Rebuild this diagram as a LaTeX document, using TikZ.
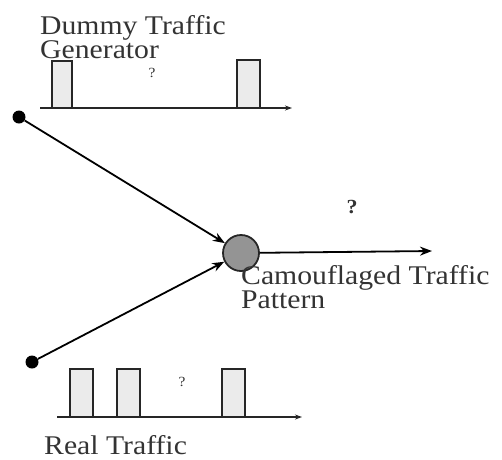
\documentclass[tikz,border=0pt]{standalone}
\usepackage{fontspec}
\setmainfont{Liberation Serif}[FakeStretch=1.1]
\usetikzlibrary{arrows.meta}
\definecolor{txt}{HTML}{333333}
\tikzset{
  lbl/.style={font=\fontsize{27}{22}\selectfont, text=txt, align=left, inner sep=0pt, anchor=north west},
  q/.style={font=\fontsize{14}{14}\selectfont, text=txt, inner sep=0pt},
  pulse/.style={draw=black!85, line width=1.8pt, fill=black!8},
  axis/.style={draw=black!85, line width=1.6pt, -{Stealth[length=7pt,width=5pt]}},
  conn/.style={draw=black, line width=1.8pt, -{Stealth[length=12pt,width=9pt]}},
  dot/.style={circle, fill=black, inner sep=0pt, minimum size=13pt},
  mix/.style={circle, draw=black!85, line width=1.8pt, fill=black!42, inner sep=0pt, minimum size=36pt}
}
\begin{document}
\begin{tikzpicture}[x=1pt,y=-1pt]
\useasboundingbox (0,0) rectangle (502,459);
% top generator
\node[lbl] (dummy) at (40,15) {Dummy Traffic\\Generator};
\draw[pulse] (52,108) rectangle (72,61);
\draw[pulse] (237,108) rectangle (260,60);
\node[q] (q1) at (152,73) {?};
\coordinate (a1s) at (40,108);
\coordinate (a1e) at (292,108);
\draw[axis] (a1s) -- (a1e);
% dots and mixer
\node[dot] (d1) at (19,117) {};
\node[dot] (d2) at (32,362) {};
\node[mix] (m) at (241,253) {};
\draw[conn] (d1) -- (m);
\draw[conn] (d2) -- (m);
\coordinate (out) at (432,251);
\draw[conn] (m) -- (out);
\node[font=\bfseries\fontsize{20}{20}\selectfont, text=txt, inner sep=0pt] (q2) at (352,207) {?};
\node[lbl] (camo) at (241,265) {Camouflaged Traffic\\Pattern};
% bottom real traffic
\draw[pulse] (70,417) rectangle (93,369);
\draw[pulse] (117,417) rectangle (140,369);
\draw[pulse] (222,417) rectangle (245,369);
\node[q] (q3) at (182,382) {?};
\coordinate (a2s) at (57,417);
\coordinate (a2e) at (302,417);
\draw[axis] (a2s) -- (a2e);
\node[lbl] (real) at (44,435) {Real Traffic};
\end{tikzpicture}
\end{document}
